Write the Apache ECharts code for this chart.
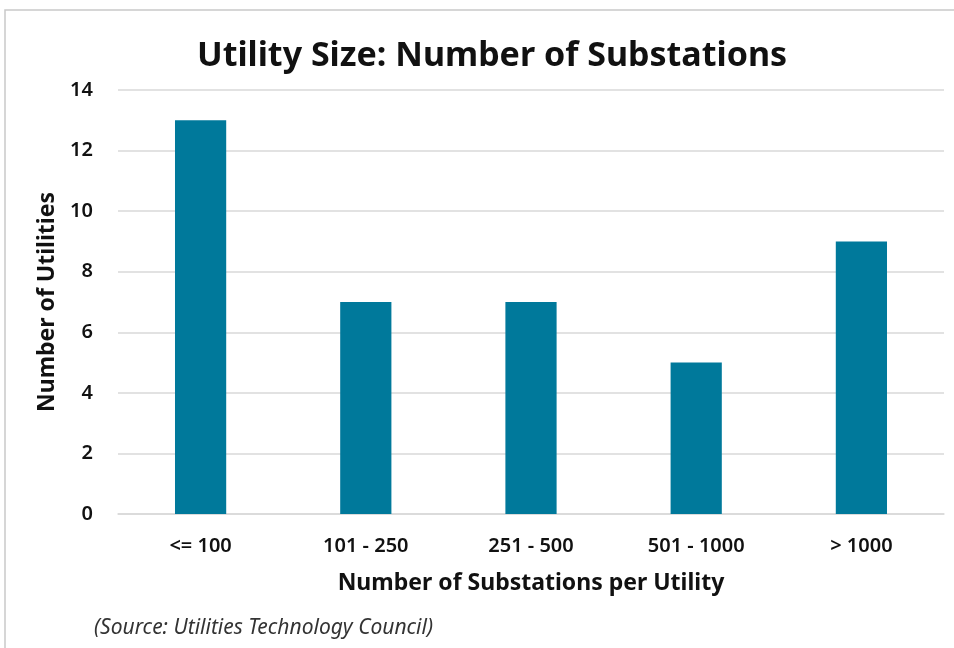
<!DOCTYPE html>
<html>
<head>
<meta charset="utf-8">
<script src="https://cdn.jsdelivr.net/npm/echarts@6/dist/echarts.min.js"></script>
<style>
  html, body { margin: 0; padding: 0; background: #fff; }
  #chart { width: 954px; height: 648px; }
</style>
</head>
<body>
<div id="chart"></div>
<script>
// Substation count buckets and the number of utilities in each
const categories = ['<= 100', '101 - 250', '251 - 500', '501 - 1000', '> 1000'];
const utilityCounts = [13, 7, 7, 5, 9];
const yTicks = { min: 0, max: 14, step: 2 };

const chart = echarts.init(document.getElementById('chart'));
const font = '"Noto Sans", "Open Sans", sans-serif';

chart.setOption({
  backgroundColor: '#ffffff',
  animation: false,
  title: {
    text: 'Utility Size: Number of Substations',
    left: 487,
    top: 34,
    textAlign: 'center',
    textStyle: { fontFamily: font, fontSize: 34, fontWeight: 'bold', color: '#111' }
  },
  graphic: [
    {
      type: 'rect',
      shape: { x: 5, y: 10, width: 960, height: 660 },
      style: { fill: 'none', stroke: '#c9c9c9', lineWidth: 1.5 },
      silent: true
    },
    {
      type: 'text',
      left: 94,
      top: 618,
      style: {
        text: '(Source: Utilities Technology Council)',
        fontFamily: font,
        fontStyle: 'italic',
        fontSize: 21,
        fill: '#333'
      }
    }
  ],
  grid: { left: 118, right: 10, top: 90, bottom: 134, containLabel: false },
  xAxis: {
    type: 'category',
    data: categories,
    name: 'Number of Substations per Utility',
    nameLocation: 'middle',
    nameGap: 58,
    nameTextStyle: { fontFamily: font, fontSize: 23, fontWeight: 'bold', color: '#111' },
    axisLine: { show: true, lineStyle: { color: '#d9d9d9', width: 1.5 } },
    axisTick: { show: false },
    axisLabel: { fontFamily: font, fontSize: 20, fontWeight: 600, color: '#111', margin: 22 }
  },
  yAxis: {
    type: 'value',
    min: yTicks.min,
    max: yTicks.max,
    interval: yTicks.step,
    name: 'Number of Utilities',
    nameLocation: 'middle',
    nameGap: 59,
    nameRotate: 90,
    nameTextStyle: { fontFamily: font, fontSize: 23, fontWeight: 'bold', color: '#111' },
    axisLine: { show: false },
    axisTick: { show: false },
    splitLine: { lineStyle: { color: '#d9d9d9', width: 1.5 } },
    axisLabel: { fontFamily: font, fontSize: 20, fontWeight: 600, color: '#111', margin: 25 }
  },
  series: [{
    type: 'bar',
    data: utilityCounts,
    barWidth: '31%',
    itemStyle: { color: '#00799b' }
  }]
});
</script>
</body>
</html>
